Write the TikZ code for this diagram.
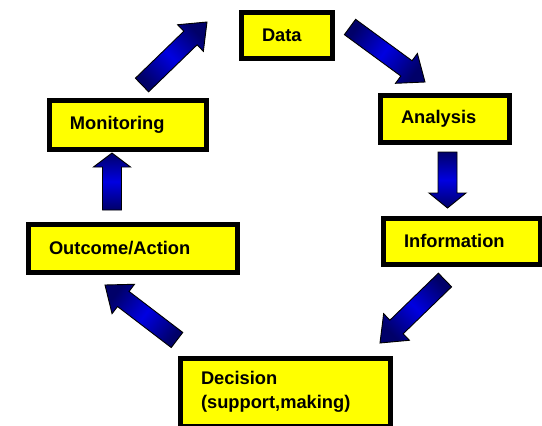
\documentclass[tikz,border=0pt]{standalone}
\usepackage{fontspec}
\setmainfont{Liberation Sans}
\usetikzlibrary{calc}

\definecolor{arrowdark}{RGB}{0,0,105}
\definecolor{arrowlight}{RGB}{0,0,225}
\definecolor{boxyellow}{RGB}{255,255,0}

\tikzset{
  stagebox/.style={draw=black, line width=5pt, fill=boxyellow, anchor=north west,
    align=left, inner xsep=21pt, inner ysep=0pt,
    font=\fontsize{18.3}{24}\selectfont\bfseries},
  fatarrow/.style={draw=black, line width=0.9pt, line join=miter,
    left color=arrowdark, right color=arrowdark, middle color=arrowlight}
}

% block arrow: [options]{head length}{tail}{tip}
\newcommand{\fatarrow}[4][]{%
  \shade[fatarrow,#1] ($(#3)!9.5pt!90:(#4)$)
    -- ($(#4)!#2!(#3)!9.5pt!-90:(#3)$)
    -- ($(#4)!#2!(#3)!18.5pt!-90:(#3)$)
    -- (#4)
    -- ($(#4)!#2!(#3)!18.5pt!90:(#3)$)
    -- ($(#4)!#2!(#3)!9.5pt!90:(#3)$)
    -- ($(#3)!9.5pt!-90:(#4)$) -- cycle;}

\begin{document}
\begin{tikzpicture}[x=1pt,y=-1pt]
	\useasboundingbox (0,0) rectangle (542,426);

	% the six stages
	\node[stagebox, text width=49pt, minimum height=46pt] (data) at (238.5,9.5) {Data};
	\node[stagebox, text width=87pt, minimum height=47pt] (analysis) at (377.5,92.5) {Analysis};
	\node[stagebox, text width=115pt, minimum height=46pt] (information) at (380.5,215.5) {Information};
	\node[stagebox, text width=168pt, minimum height=68pt] (decision) at (177.5,355.5) {Decision\\(support,making)};
	\node[stagebox, text width=167pt, minimum height=48pt] (outcome) at (25.5,221.5) {Outcome/Action};
	\node[stagebox, text width=115pt, minimum height=49pt] (monitoring) at (46.5,97.5) {Monitoring};

	% arrow ends
	\coordinate (mon-tail) at (142,85);
	\coordinate (data-tip) at (207,22);
	\coordinate (data-tail) at (350,27);
	\coordinate (ana-tip) at (425,82);
	\coordinate (ana-tail) at (447.5,152);
	\coordinate (inf-tip) at (447.5,208);
	\coordinate (inf-tail) at (445,280);
	\coordinate (dec-tip) at (380,343);
	\coordinate (dec-tail) at (177,340);
	\coordinate (out-tip) at (105,285);
	\coordinate (out-tail) at (112,210);
	\coordinate (mon-tip) at (112,153);

	\fatarrow[shading angle=134]{23pt}{mon-tail}{data-tip}
	\fatarrow[shading angle=54]{23pt}{data-tail}{ana-tip}
	\fatarrow[shading angle=0]{15pt}{ana-tail}{inf-tip}
	\fatarrow[shading angle=134]{23pt}{inf-tail}{dec-tip}
	\fatarrow[shading angle=53]{23pt}{dec-tail}{out-tip}
	\fatarrow[shading angle=0]{14pt}{out-tail}{mon-tip}
\end{tikzpicture}
\end{document}
